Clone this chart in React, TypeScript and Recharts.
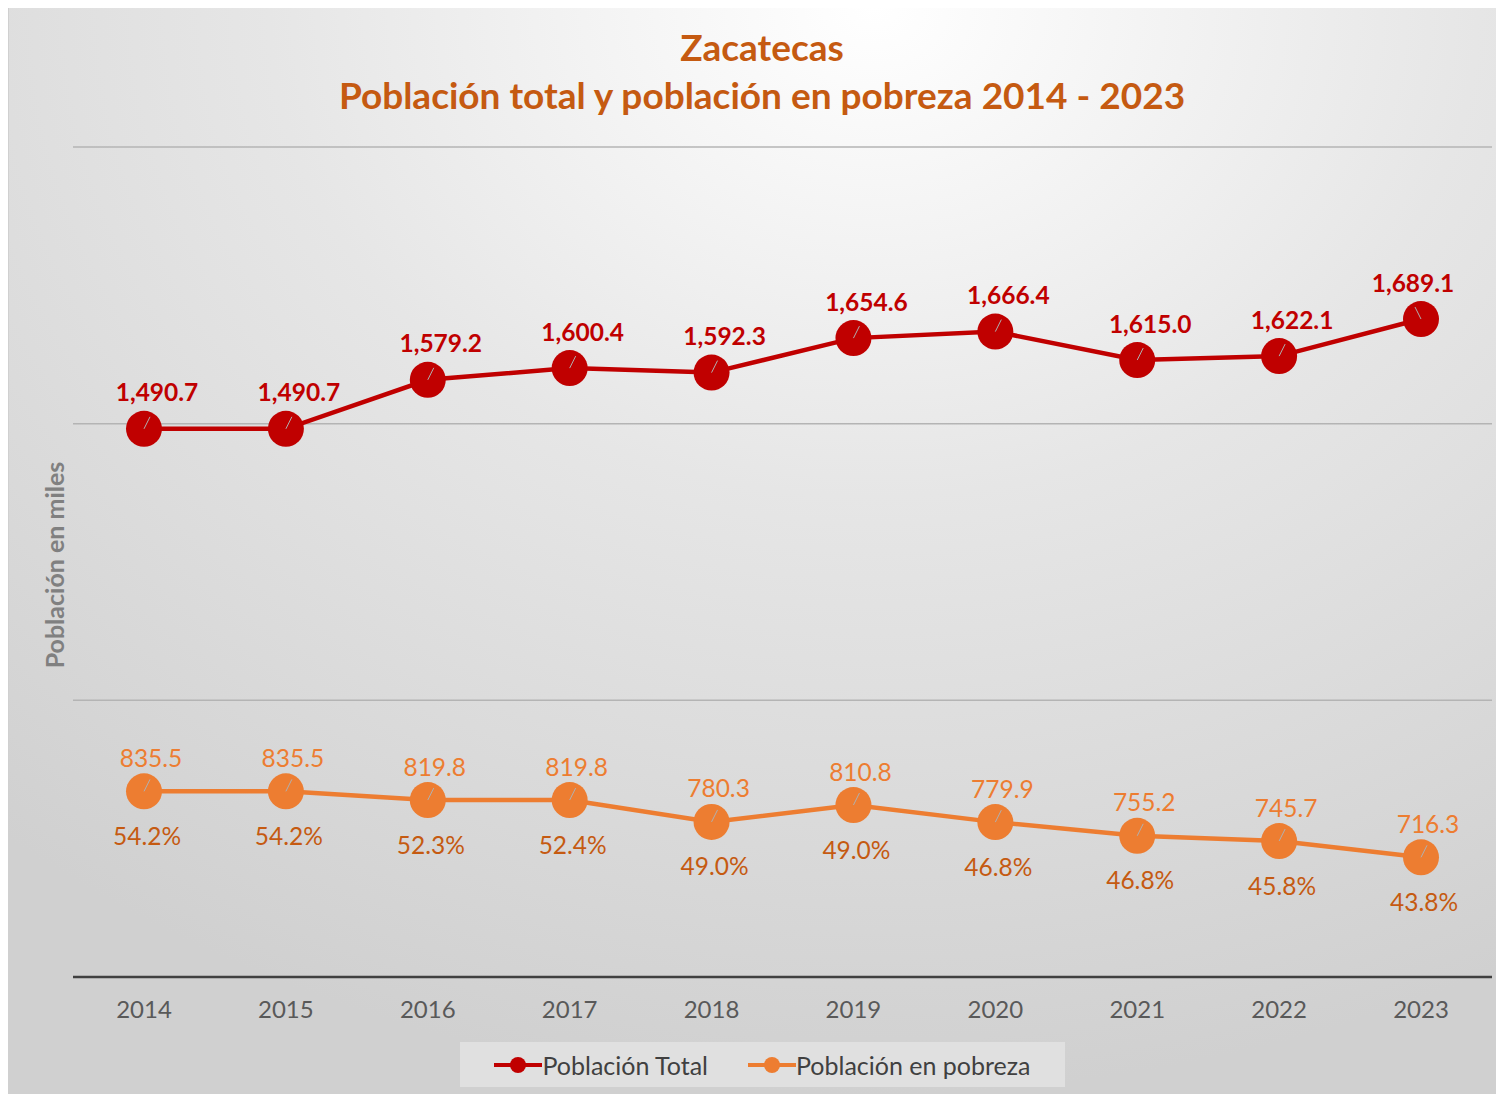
import { LineChart, Line, XAxis, YAxis, CartesianGrid, LabelList } from 'recharts';

const years = ['2014', '2015', '2016', '2017', '2018', '2019', '2020', '2021', '2022', '2023'];
const poblacionTotal = [1490.7, 1490.7, 1579.2, 1600.4, 1592.3, 1654.6, 1666.4, 1615.0, 1622.1, 1689.1];
const poblacionPobreza = [835.5, 835.5, 819.8, 819.8, 780.3, 810.8, 779.9, 755.2, 745.7, 716.3];
const porcentajePobreza = [54.2, 54.2, 52.3, 52.4, 49.0, 49.0, 46.8, 46.8, 45.8, 43.8];
const yTicks = [500, 1000, 1500, 2000];

const data = years.map((year, i) => ({
	year,
	total: poblacionTotal[i],
	pobreza: poblacionPobreza[i],
	pct: porcentajePobreza[i],
}));

const RED = '#C00000';
const ORANGE = '#ED7D31';
const FONT = 'Lato, "Open Sans", sans-serif';

const fmtThousands = (v: number) =>
	v.toLocaleString('en-US', { minimumFractionDigits: 1, maximumFractionDigits: 1 });

const makeDot = (color: string) => (props: any) => {
	const { cx, cy, index } = props;
	if (cx == null || cy == null) return null;
	const dir = index === years.length - 1 && color === RED ? -1 : 1;
	return (
		<g key={`dot-${color}-${index}`}>
			<circle cx={cx} cy={cy} r={18} fill={color} />
			<line x1={cx} y1={cy} x2={cx + 6 * dir} y2={cy - 12} stroke="#b0b0b0" strokeWidth={1} />
		</g>
	);
};

const totalLabel = (props: any) => {
	const { x, y, value, index } = props;
	const dx = index === years.length - 1 ? -8 : 13;
	return (
		<text
			x={x + dx}
			y={y - 37}
			textAnchor="middle"
			dominantBaseline="central"
			fill={RED}
			fontFamily={FONT}
			fontWeight={700}
			fontSize={24.5}
		>
			{fmtThousands(value)}
		</text>
	);
};

const pobrezaLabel = (props: any) => {
	const { x, y, value } = props;
	return (
		<text
			x={x + 7}
			y={y - 34}
			textAnchor="middle"
			dominantBaseline="central"
			fill={ORANGE}
			fontFamily={FONT}
			fontSize={24.5}
		>
			{value.toFixed(1)}
		</text>
	);
};

const pctLabel = (props: any) => {
	const { x, y, value } = props;
	return (
		<text
			x={x + 3}
			y={y + 44}
			textAnchor="middle"
			dominantBaseline="central"
			fill="#C55A11"
			fontFamily={FONT}
			fontSize={24.5}
		>
			{value.toFixed(1)}%
		</text>
	);
};

const LegendItem = ({ color, label }: { color: string; label: string }) => (
	<div style={{ display: 'flex', alignItems: 'center' }}>
		<svg width={48} height={20}>
			<line x1={0} y1={10} x2={48} y2={10} stroke={color} strokeWidth={4} />
			<circle cx={24} cy={10} r={8} fill={color} />
		</svg>
		<span>{label}</span>
	</div>
);

export default function App() {
	return (
		<div
			style={{
				position: 'relative',
				width: 1492,
				height: 1089,
				marginTop: -3,
				background: 'radial-gradient(ellipse 90% 100% at 58% 0%, #ffffff 0%, #e6e6e6 45%, #d0d0d0 100%)',
				borderTop: '2px solid #c4c4c4',
				boxShadow: 'inset 1px 0 0 #d0d0d0',
				boxSizing: 'border-box',
				fontFamily: FONT,
			}}
		>
			<div
				style={{
					position: 'absolute',
					top: 16,
					left: 0,
					width: 1508,
					textAlign: 'center',
					color: '#C55A11',
					fontWeight: 700,
					fontSize: 37,
					lineHeight: '48px',
				}}
			>
				<div>Zacatecas</div>
				<div>Población total y población en pobreza 2014 - 2023</div>
			</div>
			<div
				style={{
					position: 'absolute',
					left: 46,
					top: 558,
					transform: 'translate(-50%, -50%) rotate(-90deg)',
					whiteSpace: 'nowrap',
					color: '#808080',
					fontWeight: 700,
					fontSize: 25,
				}}
			>
				Población en miles
			</div>
			<LineChart
				width={1492}
				height={1087}
				data={data}
				margin={{ top: 140, right: 8, left: 65, bottom: 67 }}
				style={{ position: 'absolute', top: 0, left: 0 }}
			>
				<CartesianGrid horizontal vertical={false} stroke="#b4b4b4" strokeWidth={1.5} />
				<XAxis
					dataKey="year"
					height={50}
					padding={{ left: 71, right: 71 }}
					axisLine={{ stroke: '#404040', strokeWidth: 2.5 }}
					tickLine={false}
					tickMargin={18}
					tick={{ fill: '#595959', fontSize: 24, fontFamily: FONT }}
				/>
				<YAxis hide domain={[500, 2000]} ticks={yTicks} />
				<Line
					type="linear"
					dataKey="total"
					stroke={RED}
					strokeWidth={4.5}
					dot={makeDot(RED)}
					activeDot={false}
					isAnimationActive={false}
				>
					<LabelList dataKey="total" content={totalLabel} />
				</Line>
				<Line
					type="linear"
					dataKey="pobreza"
					stroke={ORANGE}
					strokeWidth={4.5}
					dot={makeDot(ORANGE)}
					activeDot={false}
					isAnimationActive={false}
				>
					<LabelList dataKey="pobreza" content={pobrezaLabel} />
					<LabelList dataKey="pct" content={pctLabel} />
				</Line>
			</LineChart>
			<div
				style={{
					position: 'absolute',
					left: 452,
					top: 1035,
					width: 605,
					height: 45,
					background: '#e0e0e0',
					display: 'flex',
					alignItems: 'center',
					justifyContent: 'center',
					gap: 40,
					color: '#404040',
					fontSize: 25,
				}}
			>
				<LegendItem color={RED} label="Población Total" />
				<LegendItem color={ORANGE} label="Población en pobreza" />
			</div>
		</div>
	);
}
